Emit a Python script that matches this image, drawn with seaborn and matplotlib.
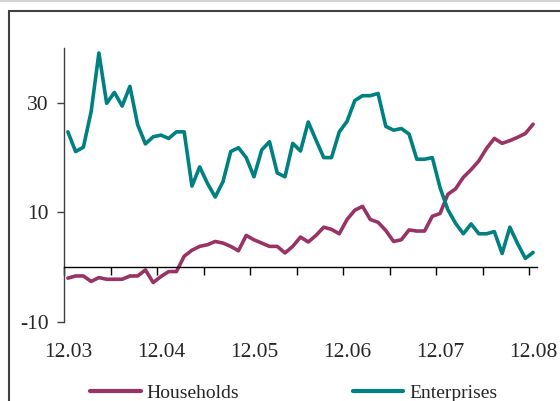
import numpy as np
import pandas as pd
import seaborn as sns
import matplotlib.pyplot as plt
from matplotlib.patches import Rectangle

# Monthly growth rates, Dec 2003 - Dec 2008
households = [-2.0, -1.6, -1.6, -2.6, -1.9, -2.2, -2.2, -2.2, -1.6, -1.6,
              -0.5, -2.8, -1.7, -0.8, -0.8, 2.0, 3.1, 3.8, 4.1, 4.7,
              4.4, 3.8, 3.0, 5.8, 5.0, 4.4, 3.8, 3.8, 2.6, 3.8,
              5.5, 4.6, 5.8, 7.3, 6.9, 6.1, 8.7, 10.4, 11.1, 8.7,
              8.2, 6.7, 4.7, 5.0, 6.8, 6.6, 6.6, 9.3, 9.8, 13.3,
              14.3, 16.4, 17.8, 19.4, 21.7, 23.5, 22.6, 23.1, 23.7, 24.4,
              26.1]
enterprises = [24.7, 21.1, 21.9, 28.4, 39.1, 29.9, 31.9, 29.4, 33.0, 26.0,
               22.5, 23.8, 24.1, 23.5, 24.7, 24.7, 14.8, 18.3, 15.3, 12.8,
               15.6, 21.1, 21.8, 20.0, 16.5, 21.4, 22.9, 17.2, 16.5, 22.6,
               21.2, 26.5, 23.2, 20.0, 20.0, 24.7, 26.6, 30.4, 31.3, 31.3,
               31.7, 25.7, 25.0, 25.3, 24.3, 19.7, 19.7, 20.0, 14.5, 10.5,
               8.0, 6.1, 7.9, 6.1, 6.1, 6.5, 2.5, 7.3, 4.3, 1.6,
               2.7]
x_labels = ["12.03", "12.04", "12.05", "12.06", "12.07", "12.08"]
y_ticks = [-10, 10, 30]

month = np.arange(len(households)) + 0.5
df = pd.concat([
    pd.DataFrame({"month": month, "value": households, "series": "Households"}),
    pd.DataFrame({"month": month, "value": enterprises, "series": "Enterprises"}),
])

sns.set_style("white")
plt.rcParams["font.family"] = ["Liberation Serif", "DejaVu Serif"]
plt.rcParams["axes.unicode_minus"] = False

fig = plt.figure(figsize=(5.6, 4.01), dpi=100)
ax = fig.add_axes([64 / 560, 79 / 401, 473 / 560, 274 / 401])

palette = {"Households": "#993366", "Enterprises": "#008080"}
sns.lineplot(data=df, x="month", y="value", hue="series", palette=palette,
             linewidth=2.6, ax=ax, legend=False)

ax.set_xlim(0, 61)
ax.set_ylim(-10, 40)
ax.set_xlabel("")
ax.set_ylabel("")

# y axis: left spine only
for s in ["top", "right"]:
    ax.spines[s].set_visible(False)
ax.spines["left"].set_color("#404040")
ax.spines["left"].set_linewidth(1)
ax.set_yticks(y_ticks)
ax.tick_params(axis="y", direction="out", length=5, width=1, color="#404040",
               labelsize=15.5, pad=6, left=True)

# x axis drawn through zero, ticks every 6 months
ax.spines["bottom"].set_position(("data", 0))
ax.spines["bottom"].set_color("black")
ax.spines["bottom"].set_linewidth(1)
ax.set_xticks(np.arange(0, 61, 6))
ax.set_xticklabels([])
ax.tick_params(axis="x", direction="out", length=6, width=1, color="black",
               bottom=True)

for i, lab in enumerate(x_labels):
    ax.text(i * 12 + 0.5, -0.11, lab, transform=ax.get_xaxis_transform(),
            ha="center", va="center", fontsize=15.5)

# legend
handles = [plt.Line2D([], [], color=palette[k], lw=3) for k in palette]
fig.legend(handles, list(palette), loc="center left",
           bbox_to_anchor=(90 / 560, 8 / 401), ncol=2, frameon=False,
           fontsize=14, handlelength=2.6, handletextpad=0.3,
           columnspacing=5.85, borderpad=0, borderaxespad=0)

# outer frame and top strip
fig.patches.append(Rectangle((9 / 560, -0.1), 1.2, (390 / 401) + 0.1,
                             transform=fig.transFigure, fill=False,
                             edgecolor="#404040", linewidth=1.5))
fig.patches.append(Rectangle((0, 399 / 401), 1, 2 / 401,
                             transform=fig.transFigure, color="#d4d4d4",
                             linewidth=0))

fig.savefig("out.png", dpi=100)
